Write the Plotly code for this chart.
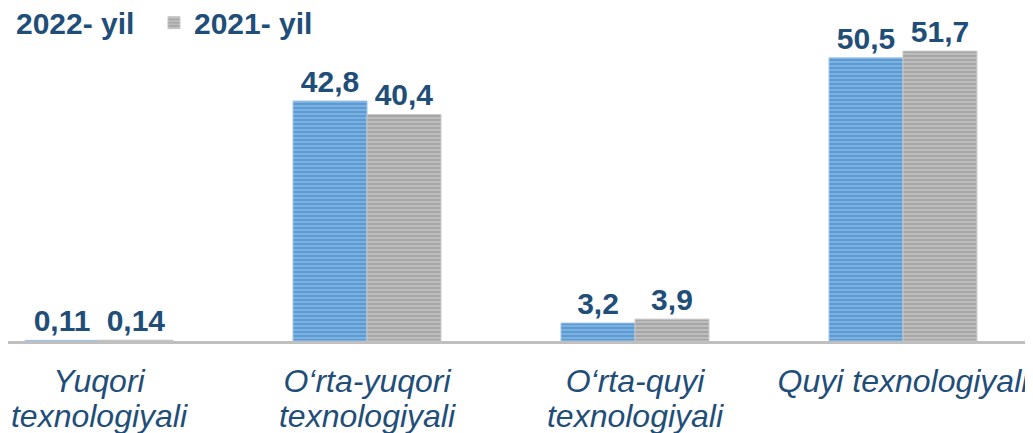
import plotly.graph_objects as go

categories = ["Yuqori", "O‘rta-yuqori", "O‘rta-quyi", "Quyi texnologiyali"]
categories_line2 = ["texnologiyali", "texnologiyali", "texnologiyali", ""]
values_2022 = [0.11, 42.8, 3.2, 50.5]
values_2021 = [0.14, 40.4, 3.9, 51.7]
series_names = ["2022- yil", "2021- yil"]

def fmt(v):
    return str(v).replace(".", ",")

DARK = "#1F4E79"
FONT = "Liberation Sans, Arial, sans-serif"
XRANGE = [-0.3396, 3.515]

fig = go.Figure()
fig.add_trace(go.Bar(
    x=categories, y=values_2022, name=series_names[0],
    text=[fmt(v) for v in values_2022], textposition="outside",
    textfont=dict(family=FONT, size=30, color=DARK, weight="bold"),
    cliponaxis=False, constraintext="none",
    marker=dict(color="#5B9BD5",
                pattern=dict(shape="-", bgcolor="#5B9BD5", fgcolor="#B4D2EE",
                             size=4, solidity=0.4, fillmode="overlay"),
                line=dict(color="#9DC3E6", width=1)),
))
fig.add_trace(go.Bar(
    x=categories, y=values_2021, name=series_names[1],
    text=[fmt(v) for v in values_2021], textposition="outside",
    textfont=dict(family=FONT, size=30, color=DARK, weight="bold"),
    cliponaxis=False, constraintext="none",
    marker=dict(color="#A6A6A6",
                pattern=dict(shape="-", bgcolor="#A6A6A6", fgcolor="#E0E0E0",
                             size=4, solidity=0.4, fillmode="overlay"),
                line=dict(color="#C8C8C8", width=1)),
))
# helper trace so the second (label-line) x axis is drawn
fig.add_trace(go.Scatter(x=[0], y=[0], xaxis="x2", mode="markers",
                         marker=dict(opacity=0), showlegend=False, hoverinfo="skip"))

tickfont = dict(family=FONT, size=32, color=DARK, style="italic")

fig.update_layout(
    width=1033, height=433,
    margin=dict(l=0, r=0, t=0, b=100, autoexpand=False),
    paper_bgcolor="white", plot_bgcolor="white",
    barmode="group", bargap=0.448, bargroupgap=0,
    showlegend=True,
    legend=dict(orientation="h", x=-0.031, y=1.034, xanchor="left", yanchor="top",
                font=dict(family=FONT, size=30, color=DARK, weight="bold"),
                bgcolor="rgba(0,0,0,0)", itemwidth=30, tracegroupgap=0,
                entrywidth=133, entrywidthmode="pixels"),
    xaxis=dict(range=XRANGE, showline=True, linecolor="#BFBFBF", linewidth=3,
               automargin=False, ticks="", showgrid=False, zeroline=False,
               ticklabelstandoff=10, tickfont=tickfont),
    xaxis2=dict(overlaying="x", side="bottom", range=XRANGE,
                tickmode="array", tickvals=[0, 1, 2, 3], ticktext=categories_line2,
                showline=False, showgrid=False, zeroline=False, ticks="",
                ticklabelstandoff=53, automargin=False, tickfont=tickfont),
    yaxis=dict(range=[0, 59.39], visible=False, showgrid=False, zeroline=False),
)

fig.write_html("out.html")
